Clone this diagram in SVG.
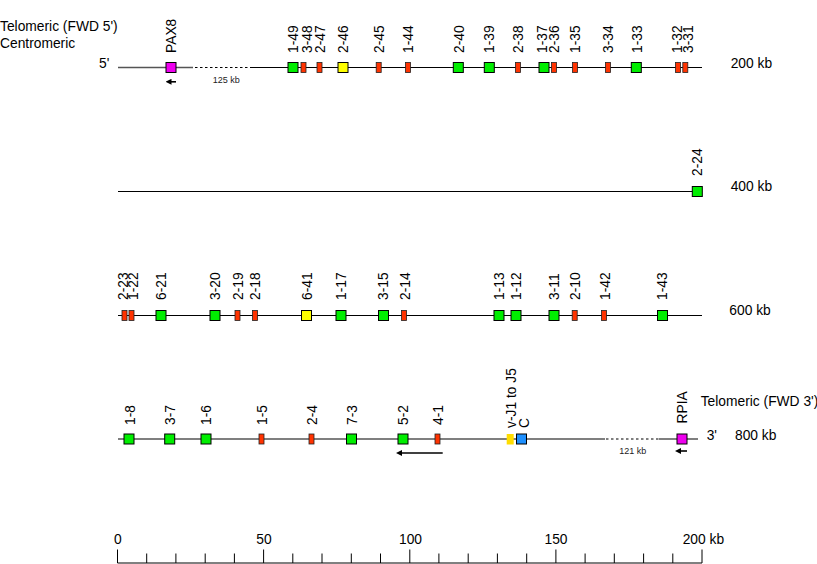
<svg xmlns="http://www.w3.org/2000/svg" width="817" height="564" viewBox="0 0 817 564">
<defs>
<style>
.ln{stroke:#000;stroke-width:1.2;fill:none}
.gl{stroke:#555;stroke-width:1.6;fill:none}
.dot{stroke:#000;stroke-width:1.2;stroke-dasharray:2.5 2.5;fill:none}
.arr{stroke:#000;stroke-width:1.6;fill:none}
.g{fill:#00ee00;stroke:#000;stroke-width:1}
.r{fill:#ff3300;stroke:#222;stroke-width:0.8}
.y{fill:#ffff00;stroke:#000;stroke-width:1}
.yj{fill:#ffdd00;stroke:none}
.m{fill:#ee00ee;stroke:#000;stroke-width:1}
.b{fill:#1e90ff;stroke:#000;stroke-width:1}
text{font-family:"Liberation Sans",Arial,sans-serif;font-size:13.8px;fill:#000}
.sm{font-size:9px;fill:#222}
.mid{text-anchor:middle}
.tk{stroke:#000;stroke-width:1}
</style>
<marker id="ah" viewBox="0 0 6 6" refX="2" refY="3" markerWidth="6" markerHeight="6" markerUnits="userSpaceOnUse" orient="auto">
<path d="M0,0 L6,3 L0,6 z" fill="#000"/>
</marker>
</defs>
<rect width="817" height="564" fill="#fff"/>

<g id="titles">
<text x="0" y="31">Telomeric (FWD 5')</text>
<text x="0" y="48">Centromeric</text>
<text x="99" y="68">5'</text>
<text x="730.7" y="68">200 kb</text>
<text x="730.7" y="191">400 kb</text>
<text x="729.3" y="315">600 kb</text>
<text x="700.7" y="406">Telomeric (FWD 3')</text>
<text x="706.7" y="440">3'</text>
<text x="735" y="440">800 kb</text>
<text class="sm" x="212.7" y="83">125 kb</text>
<text class="sm" x="619.3" y="454.3">121 kb</text>
</g>

<g id="connectors">
<line class="gl" x1="118" y1="67.5" x2="193" y2="67.5"/>
<line class="dot" x1="195" y1="67.5" x2="252" y2="67.5"/>
<line class="ln" x1="252" y1="67.5" x2="702" y2="67.5"/>
<line class="ln" x1="118" y1="191.5" x2="697" y2="191.5"/>
<line class="ln" x1="118" y1="315.5" x2="702" y2="315.5"/>
<line class="ln" x1="118" y1="439" x2="605" y2="439"/>
<line class="dot" x1="606" y1="439" x2="659" y2="439"/>
<line class="ln" x1="659" y1="439" x2="698" y2="439"/>
<line class="arr" x1="176" y1="81.8" x2="169.5" y2="81.8" marker-end="url(#ah)"/>
<line class="arr" x1="442.7" y1="453" x2="400" y2="453" marker-end="url(#ah)"/>
<line class="arr" x1="687" y1="451" x2="679" y2="451" marker-end="url(#ah)"/>
</g>

<!-- Row 1 -->
<g id="PAX8"><rect class="m" x="166" y="62.5" width="10" height="10"/><text transform="translate(175.6,53) rotate(-90)">PAX8</text></g>
<g id="v1-49"><rect class="g" x="288" y="62.5" width="10" height="10"/><text transform="translate(298.2,53) rotate(-90)">1-49</text></g>
<g id="v3-48"><rect class="r" x="301" y="62.5" width="5" height="10"/><text transform="translate(311.6,53) rotate(-90)">3-48</text></g>
<g id="v2-47"><rect class="r" x="317" y="62.5" width="5" height="10"/><text transform="translate(324.9,53) rotate(-90)">2-47</text></g>
<g id="v2-46"><rect class="y" x="338" y="62.5" width="10" height="10"/><text transform="translate(348.2,53) rotate(-90)">2-46</text></g>
<g id="v2-45"><rect class="r" x="376.2" y="62.5" width="5" height="10"/><text transform="translate(383.9,53) rotate(-90)">2-45</text></g>
<g id="v1-44"><rect class="r" x="405.5" y="62.5" width="5" height="10"/><text transform="translate(413.2,53) rotate(-90)">1-44</text></g>
<g id="v2-40"><rect class="g" x="453.3" y="62.5" width="10" height="10"/><text transform="translate(463.6,53) rotate(-90)">2-40</text></g>
<g id="v1-39"><rect class="g" x="484.3" y="62.5" width="10" height="10"/><text transform="translate(494.2,53) rotate(-90)">1-39</text></g>
<g id="v2-38"><rect class="r" x="515.5" y="62.5" width="5" height="10"/><text transform="translate(523.2,53) rotate(-90)">2-38</text></g>
<g id="v1-37"><rect class="g" x="539" y="62.5" width="10" height="10"/><text transform="translate(547.4,53) rotate(-90)">1-37</text></g>
<g id="v2-36"><rect class="r" x="551.5" y="62.5" width="5" height="10"/><text transform="translate(559.2,53) rotate(-90)">2-36</text></g>
<g id="v1-35"><rect class="r" x="572.5" y="62.5" width="5" height="10"/><text transform="translate(579.9,53) rotate(-90)">1-35</text></g>
<g id="v3-34"><rect class="r" x="605.5" y="62.5" width="5" height="10"/><text transform="translate(613.2,53) rotate(-90)">3-34</text></g>
<g id="v1-33"><rect class="g" x="631.3" y="62.5" width="10" height="10"/><text transform="translate(641.6,53) rotate(-90)">1-33</text></g>
<g id="v1-32"><rect class="r" x="675.5" y="62.5" width="5" height="10"/><text transform="translate(681.6,53) rotate(-90)">1-32</text></g>
<g id="v3-31"><rect class="r" x="682.8" y="62.5" width="5" height="10"/><text transform="translate(692.9,53) rotate(-90)">3-31</text></g>

<!-- Row 2 -->
<g id="v2-24"><rect class="g" x="692.3" y="186.5" width="10" height="10"/><text transform="translate(702.2,176) rotate(-90)">2-24</text></g>

<!-- Row 3 -->
<g id="v2-23"><rect class="r" x="122" y="310.5" width="5" height="10"/><text transform="translate(128.2,300) rotate(-90)">2-23</text></g>
<g id="v1-22"><rect class="r" x="129" y="310.5" width="5" height="10"/><text transform="translate(138.2,300) rotate(-90)">1-22</text></g>
<g id="v6-21"><rect class="g" x="156" y="310.5" width="10" height="10"/><text transform="translate(165.9,300) rotate(-90)">6-21</text></g>
<g id="v3-20"><rect class="g" x="210" y="310.5" width="10" height="10"/><text transform="translate(219.9,300) rotate(-90)">3-20</text></g>
<g id="v2-19"><rect class="r" x="235" y="310.5" width="5" height="10"/><text transform="translate(243.2,300) rotate(-90)">2-19</text></g>
<g id="v2-18"><rect class="r" x="252.5" y="310.5" width="5" height="10"/><text transform="translate(259.9,300) rotate(-90)">2-18</text></g>
<g id="v6-41"><rect class="y" x="301.5" y="310.5" width="10" height="10"/><text transform="translate(311.6,300) rotate(-90)">6-41</text></g>
<g id="v1-17"><rect class="g" x="336" y="310.5" width="10" height="10"/><text transform="translate(345.9,300) rotate(-90)">1-17</text></g>
<g id="v3-15"><rect class="g" x="378.5" y="310.5" width="10" height="10"/><text transform="translate(388.2,300) rotate(-90)">3-15</text></g>
<g id="v2-14"><rect class="r" x="401.5" y="310.5" width="5" height="10"/><text transform="translate(409.9,300) rotate(-90)">2-14</text></g>
<g id="v1-13"><rect class="g" x="494" y="310.5" width="10" height="10"/><text transform="translate(504.2,300) rotate(-90)">1-13</text></g>
<g id="v1-12"><rect class="g" x="511" y="310.5" width="10" height="10"/><text transform="translate(520.9,300) rotate(-90)">1-12</text></g>
<g id="v3-11"><rect class="g" x="549" y="310.5" width="10" height="10"/><text transform="translate(559.2,300) rotate(-90)">3-11</text></g>
<g id="v2-10"><rect class="r" x="572.2" y="310.5" width="5" height="10"/><text transform="translate(579.9,300) rotate(-90)">2-10</text></g>
<g id="v1-42"><rect class="r" x="601.5" y="310.5" width="5" height="10"/><text transform="translate(609.9,300) rotate(-90)">1-42</text></g>
<g id="v1-43"><rect class="g" x="657.5" y="310.5" width="10" height="10"/><text transform="translate(666.6,300) rotate(-90)">1-43</text></g>

<!-- Row 4 -->
<g id="v1-8"><rect class="g" x="124" y="434" width="10" height="10"/><text transform="translate(134.9,425) rotate(-90)">1-8</text></g>
<g id="v3-7"><rect class="g" x="164.7" y="434" width="10" height="10"/><text transform="translate(174.9,425) rotate(-90)">3-7</text></g>
<g id="v1-6"><rect class="g" x="201" y="434" width="10" height="10"/><text transform="translate(210.9,425) rotate(-90)">1-6</text></g>
<g id="v1-5"><rect class="r" x="259" y="434" width="5" height="10"/><text transform="translate(266.6,425) rotate(-90)">1-5</text></g>
<g id="v2-4"><rect class="r" x="309" y="434" width="5" height="10"/><text transform="translate(316.6,425) rotate(-90)">2-4</text></g>
<g id="v7-3"><rect class="g" x="346.5" y="434" width="10" height="10"/><text transform="translate(356.6,425) rotate(-90)">7-3</text></g>
<g id="v5-2"><rect class="g" x="398" y="434" width="10" height="10"/><text transform="translate(408.2,425) rotate(-90)">5-2</text></g>
<g id="v4-1"><rect class="r" x="435" y="434" width="5" height="10"/><text transform="translate(443.2,425) rotate(-90)">4-1</text></g>
<g id="J"><rect class="yj" x="506.7" y="434" width="7" height="10.5"/><text transform="translate(515.9,428) rotate(-90)">v-J1 to J5</text></g>
<g id="C"><rect class="b" x="516.5" y="434" width="10" height="10"/><text transform="translate(528.9,428) rotate(-90)">C</text></g>
<g id="RPIA"><rect class="m" x="677" y="434" width="10" height="10"/><text transform="translate(687.4,423.5) rotate(-90)">RPIA</text></g>

<!-- Scale axis -->
<g id="axis">
<line class="tk" x1="117.5" y1="563" x2="702" y2="563"/>
<path class="tk" d="M117.5,549.5V563 M263.6,549.5V563 M409.8,549.5V563 M555.9,549.5V563 M702,549.5V563"/>
<path class="tk" d="M146.7,553.5V563 M175.9,553.5V563 M205.2,553.5V563 M234.4,553.5V563 M292.8,553.5V563 M322,553.5V563 M351.3,553.5V563 M380.5,553.5V563 M438.9,553.5V563 M468.2,553.5V563 M497.4,553.5V563 M526.7,553.5V563 M585.1,553.5V563 M614.3,553.5V563 M643.6,553.5V563 M672.8,553.5V563"/>
<text class="mid" x="117.8" y="544">0</text>
<text class="mid" x="264" y="544">50</text>
<text class="mid" x="410.5" y="544">100</text>
<text class="mid" x="556" y="544">150</text>
<text x="682.7" y="544">200 kb</text>
</g>
</svg>
